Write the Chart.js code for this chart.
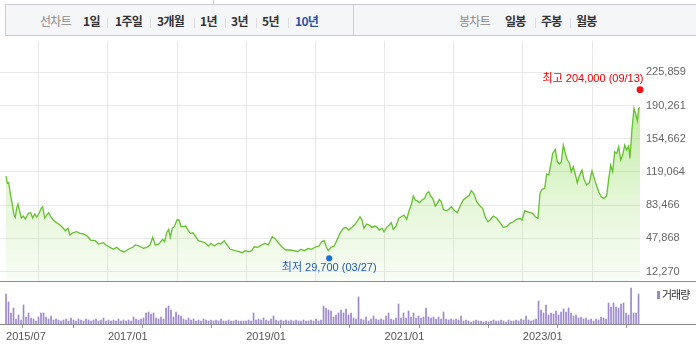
<!DOCTYPE html>
<html><head><meta charset="utf-8">
<script src="https://cdn.jsdelivr.net/npm/chart.js@4.4.1/dist/chart.umd.min.js"></script>
<style>
html,body{margin:0;padding:0;background:#fff;width:696px;height:353px;overflow:hidden;position:relative;font-family:'Noto Sans CJK KR',sans-serif;}
.box{position:absolute;top:4px;height:30px;background:#f5f6f8;border-top:1px solid #c9ccd1;border-bottom:1px solid #c9ccd1;}
.t{position:absolute;top:14px;font-size:12px;line-height:14px;letter-spacing:-0.7px;white-space:nowrap;color:#333;font-weight:bold;}
.g{color:#8a8a8a;font-weight:normal;}
.blue{color:#2a4fb0;}
.sep{position:absolute;top:18px;width:1px;height:10px;background:#dcdde0;}
#w1{position:absolute;left:0;top:0;width:696px;height:281px;}
#w2{position:absolute;left:0;top:281px;width:696px;height:72px;}
#leg{position:absolute;left:657px;top:288px;font-size:11px;line-height:12px;letter-spacing:-1px;color:#333;white-space:nowrap;}
#leg b{display:inline-block;width:3px;height:8px;background:#9c88cb;margin-right:2px;vertical-align:-0px;}
</style></head>
<body>
<div style="position:absolute;left:213px;top:0;width:1px;height:4px;background:#c9ccd1"></div>
<div class="box" style="left:5px;width:347px;border-left:1px solid #c9ccd1;"></div>
<div class="box" style="left:353px;width:343px;border-left:1px solid #c9ccd1;"></div>
<span class="t g" style="left:40px">선차트</span>
<span class="t" style="left:83px">1일</span><i class="sep" style="left:107px"></i>
<span class="t" style="left:115px">1주일</span><i class="sep" style="left:150px"></i>
<span class="t" style="left:157px">3개월</span><i class="sep" style="left:194px"></i>
<span class="t" style="left:200px">1년</span><i class="sep" style="left:225px"></i>
<span class="t" style="left:231px">3년</span><i class="sep" style="left:256px"></i>
<span class="t" style="left:262px">5년</span><i class="sep" style="left:288px"></i>
<span class="t blue" style="left:295px">10년</span>
<span class="t g" style="left:459px">봉차트</span>
<span class="t" style="left:505px">일봉</span><i class="sep" style="left:535px"></i>
<span class="t" style="left:541px">주봉</span><i class="sep" style="left:570px"></i>
<span class="t" style="left:576px">월봉</span>
<div id="w1"><canvas id="c1" width="696" height="281"></canvas></div>
<div id="w2"><canvas id="c2" width="696" height="72"></canvas></div>
<div id="leg"><b></b>거래량</div>
<script>
// ---- data ----
const xTickValues = [2015.527, 2016, 2017, 2018, 2019, 2020, 2021, 2022, 2023, 2024];
const xTickLabels = ['2015/07', '', '2017/01', '', '2019/01', '', '2021/01', '', '2023/01', ''];
const yTickValues = [12270, 47868, 83466, 119064, 154662, 190261, 225859];

const priceDates = [
2015.527,2015.546,2015.566,2015.585,2015.614,2015.642,2015.661,2015.681,2015.700,2015.719,
2015.748,2015.777,2015.806,2015.855,2015.884,2015.913,2015.942,2015.971,2016.008,2016.037,
2016.057,2016.086,2016.115,2016.144,2016.173,2016.211,2016.260,2016.308,2016.355,2016.384,
2016.423,2016.452,2016.491,2016.549,2016.597,2016.644,2016.702,2016.751,2016.814,2016.867,
2016.934,2016.973,2017.031,2017.078,2017.127,2017.185,2017.233,2017.295,2017.359,2017.396,
2017.454,2017.512,2017.561,2017.609,2017.648,2017.686,2017.735,2017.793,2017.821,2017.850,
2017.879,2017.902,2017.931,2017.960,2017.999,2018.028,2018.057,2018.096,2018.125,2018.163,
2018.192,2018.231,2018.270,2018.307,2018.356,2018.404,2018.452,2018.491,2018.539,2018.596,
2018.635,2018.683,2018.722,2018.770,2018.838,2018.896,2018.943,2018.982,2019.040,2019.079,
2019.117,2019.166,2019.224,2019.272,2019.319,2019.377,2019.416,2019.464,2019.522,2019.571,
2019.633,2019.695,2019.744,2019.792,2019.840,2019.898,2019.947,2020.005,2020.052,2020.091,
2020.129,2020.158,2020.187,2020.226,2020.274,2020.317,2020.356,2020.404,2020.443,2020.482,
2020.530,2020.577,2020.616,2020.645,2020.674,2020.703,2020.742,2020.780,2020.819,2020.858,
2020.895,2020.924,2020.963,2020.992,2021.031,2021.069,2021.098,2021.127,2021.166,2021.205,
2021.242,2021.281,2021.320,2021.358,2021.387,2021.416,2021.445,2021.474,2021.503,2021.542,
2021.581,2021.610,2021.639,2021.667,2021.696,2021.734,2021.763,2021.792,2021.821,2021.850,
2021.889,2021.928,2021.965,2022.004,2022.052,2022.101,2022.139,2022.188,2022.226,2022.255,
2022.294,2022.333,2022.380,2022.419,2022.457,2022.496,2022.525,2022.573,2022.622,2022.670,
2022.717,2022.766,2022.814,2022.862,2022.911,2022.959,2022.988,2023.027,2023.064,2023.103,
2023.142,2023.180,2023.219,2023.248,2023.277,2023.316,2023.345,2023.374,2023.403,2023.431,
2023.469,2023.498,2023.527,2023.556,2023.585,2023.614,2023.643,2023.672,2023.700,2023.729,
2023.758,2023.787,2023.816,2023.855,2023.884,2023.923,2023.961,2024.000,2024.029,2024.058,
2024.097,2024.134,2024.173,2024.212,2024.241,2024.270,2024.299,2024.328,2024.357,2024.386,
2024.415,2024.444,2024.473,2024.501,2024.530,2024.549,2024.578,2024.607,2024.636,2024.655,
2024.675,2024.694];
const prices = [
114600,106800,107400,97800,85700,72800,70400,80300,84600,78200,
69600,71700,68500,75000,75300,69600,73900,70700,75000,80300,
81700,69600,72800,75300,71000,67500,64600,62100,58600,56000,
58600,51400,53800,54900,53200,52500,50300,46000,45300,41700,
43100,40700,38200,36100,38200,34600,33200,36100,38200,40700,
39600,37100,38200,40700,48900,40700,41700,46800,44200,53800,
57500,48900,58600,60300,67500,67500,60300,60300,61000,56000,
53200,53800,49600,45300,44200,43100,39600,42500,39600,42500,
41700,45300,40700,36100,34600,33500,32400,34600,33500,34600,
38800,38200,40700,42500,40700,49600,47800,43100,38200,35300,
35300,34600,33500,36100,34600,37100,36100,38800,39600,44200,
45300,38800,34600,38200,39600,46800,53200,58600,59600,56700,
59600,63200,67500,71000,67500,58600,63200,62100,59600,61000,
59600,56700,58600,54900,59600,62100,64600,57500,61000,69300,
71000,72800,68200,78200,83500,93200,88900,88100,86000,88900,
90700,96100,97800,93200,90700,82500,85400,89600,87100,78900,
77400,78900,81700,78200,75300,83500,88900,91800,94200,98900,
95300,87100,82500,80000,70400,65600,67500,71700,69300,64600,
59600,60300,63900,65600,68200,69300,67500,77400,76400,75300,
74600,71000,69300,96100,100400,101400,116800,115700,126400,138900,
143200,129900,127500,129900,147800,138900,131800,128900,119200,124600,
116800,107400,114600,121000,111100,105000,107400,120300,113200,106000,
97800,92400,90700,93200,111100,126400,119200,140600,138900,146000,
131800,137100,147800,142500,146800,133600,164700,187200,180000,173900,
187200,188200];

// volume, in units of 10만주 (one bar per period)
const volumes = [
30,22,11,16,5,9,4,19,7,11,6,5,3,7,11,11,7,5,8,4,
5,4,3,4,5,3,6,4,3,5,4,3,5,4,3,4,5,3,4,6,
3,4,3,4,3,5,3,4,3,4,3,7,5,4,5,6,11,12,10,11,
6,5,7,5,16,18,14,7,12,9,8,5,4,6,4,5,3,4,3,5,
4,3,4,3,4,3,5,3,3,4,3,3,4,3,3,3,3,4,3,11,
4,5,4,6,4,3,5,8,4,3,4,3,4,3,4,3,4,3,3,4,
3,3,4,3,5,3,4,18,16,14,13,7,9,11,14,11,15,9,11,6,
5,27,5,4,7,3,5,8,5,4,5,4,8,11,5,4,6,20,6,11,
6,13,7,11,6,8,6,7,16,7,6,7,5,7,5,12,5,4,5,4,
5,4,8,3,4,3,2,3,4,3,3,2,3,2,3,4,3,3,4,3,
2,4,3,3,4,3,5,4,8,4,3,4,5,23,14,11,19,9,11,10,
13,9,12,15,12,16,11,8,9,6,7,5,6,4,5,3,5,4,7,6,
5,21,17,21,17,16,20,21,11,9,36,11,11,30];
const volStart = 2015.527, volStep = 0.03615; // period start and length (years)

const markerNames = ['최고', '최저'];
const markerValues = [204000, 29700];
const markerDateLabels = ['09/13', '03/27'];
const markerDates = [2024.694, 2020.2];

// ---- charts ----
const X_MIN = 2015.44, X_MAX = 2024.694;
const Y_MIN = 2083, Y_MAX = 259422;
const GRID = '#e9e9e9';
const AX_FONT = {family: "'Liberation Sans', Arial, sans-serif", size: 11};

const pricePts = priceDates.map((d, i) => ({x: d, y: prices[i]}));
const volPts = volumes.map((v, i) => ({x: volStart + i * volStep, y: v}));

const markerPlugin = {
  id: 'markers',
  afterDatasetsDraw(chart) {
    const ctx = chart.ctx, xs = chart.scales.x, ys = chart.scales.y;
    ctx.save();
    ctx.font = "11px 'Liberation Sans', 'Noto Sans CJK KR', sans-serif";
    ctx.textBaseline = 'middle';
    // high
    let hx = xs.getPixelForValue(markerDates[0]);
    let hy = ys.getPixelForValue(markerValues[0]) - 3;
    ctx.fillStyle = '#ff1010';
    ctx.beginPath(); ctx.arc(hx, hy, 3.4, 0, Math.PI * 2); ctx.fill();
    ctx.textAlign = 'right';
    ctx.fillStyle = '#f00000';
    ctx.fillText(markerNames[0] + ' ' + markerValues[0].toLocaleString('en-US') + ' (' + markerDateLabels[0] + ')', hx + 3.5, hy - 11);
    // low
    let lx = xs.getPixelForValue(markerDates[1]);
    let ly = ys.getPixelForValue(markerValues[1]) + 3;
    ctx.fillStyle = '#1c6ee0';
    ctx.beginPath(); ctx.arc(lx, ly, 3.1, 0, Math.PI * 2); ctx.fill();
    ctx.textAlign = 'center';
    ctx.fillStyle = '#1f58c8';
    ctx.fillText(markerNames[1] + ' ' + markerValues[1].toLocaleString('en-US') + ' (' + markerDateLabels[1] + ')', lx, ly + 10);
    ctx.restore();
  }
};

new Chart(document.getElementById('c1'), {
  type: 'line',
  data: {datasets: [{
    data: pricePts,
    borderColor: '#62c22c',
    borderWidth: 1.3,
    pointRadius: 0,
    tension: 0,
    fill: 'start',
    backgroundColor: (c) => {
      const ch = c.chart, ca = ch.chartArea;
      if (!ca) return 'rgba(130,215,70,0.2)';
      const g = ch.ctx.createLinearGradient(0, 95, 0, ca.bottom);
      g.addColorStop(0, 'rgba(130,215,70,0.52)');
      g.addColorStop(0.55, 'rgba(130,215,70,0.22)');
      g.addColorStop(1, 'rgba(130,215,70,0.05)');
      return g;
    }
  }]},
  options: {
    responsive: false, animation: false, devicePixelRatio: 1,
    layout: {padding: {top: 41, left: 0, right: 0, bottom: 0}},
    plugins: {legend: {display: false}, tooltip: {enabled: false}},
    scales: {
      x: {type: 'linear', min: X_MIN, max: X_MAX,
          afterBuildTicks: s => { s.ticks = xTickValues.map(v => ({value: v})); },
          afterFit: s => { s.height = 0; s.paddingLeft = 0; s.paddingRight = 0; },
          ticks: {display: false},
          grid: {drawTicks: false, color: c => c.index === 0 ? 'rgba(0,0,0,0)' : GRID},
          border: {display: false}},
      y: {position: 'right', min: Y_MIN, max: Y_MAX,
          afterBuildTicks: s => { s.ticks = yTickValues.map(v => ({value: v})); },
          afterFit: s => { s.width = 56; s.paddingTop = 0; s.paddingBottom = 0; },
          ticks: {padding: 6, color: '#666', font: AX_FONT, autoSkip: false,
                  callback: v => Number(v).toLocaleString('en-US')},
          grid: {drawTicks: false, color: GRID},
          border: {display: false}}
    }
  },
  plugins: [markerPlugin]
});

const panelLines = {
  id: 'panelLines',
  afterDraw(chart) {
    const ctx = chart.ctx, ca = chart.chartArea;
    ctx.save();
    ctx.strokeStyle = '#8e8e8e'; ctx.lineWidth = 1;
    ctx.beginPath(); ctx.moveTo(0, 0.5); ctx.lineTo(chart.width, 0.5); ctx.stroke();
    ctx.strokeStyle = '#8a8a8a';
    const b = Math.round(ca.bottom) + 0.5;
    ctx.beginPath(); ctx.moveTo(0, b); ctx.lineTo(chart.width, b); ctx.stroke();
    ctx.restore();
  }
};

new Chart(document.getElementById('c2'), {
  type: 'bar',
  data: {datasets: [{
    data: volPts,
    backgroundColor: '#9c88cb',
    barThickness: 1,
    borderWidth: 0
  }]},
  options: {
    responsive: false, animation: false, devicePixelRatio: 1,
    layout: {padding: {top: 1, left: 0, right: 0, bottom: 0}},
    plugins: {legend: {display: false}, tooltip: {enabled: false}},
    scales: {
      x: {type: 'linear', min: X_MIN, max: X_MAX, offset: false,
          afterBuildTicks: s => { s.ticks = xTickValues.map(v => ({value: v})); },
          afterFit: s => { s.height = 29; s.paddingLeft = 0; s.paddingRight = 0; },
          ticks: {autoSkip: false, maxRotation: 0, align: 'start', padding: 2, color: '#555', font: AX_FONT,
                  callback: (v, i) => xTickLabels[i]},
          grid: {drawOnChartArea: false, drawTicks: true, tickLength: 4, tickColor: '#999'},
          border: {display: false}},
      y: {position: 'right', min: 0, max: 42,
          afterFit: s => { s.width = 56; s.paddingTop = 0; s.paddingBottom = 0; },
          ticks: {display: false},
          grid: {display: false},
          border: {display: false}}
    }
  },
  plugins: [panelLines]
});
</script>
</body></html>
